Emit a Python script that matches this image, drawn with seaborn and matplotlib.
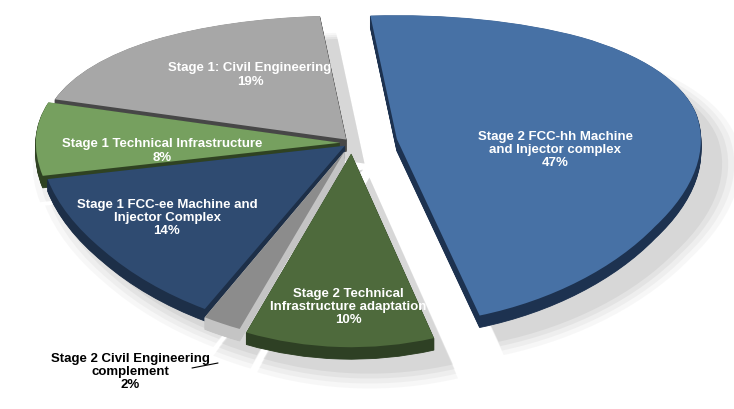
import numpy as np
import matplotlib
matplotlib.use("Agg")
import matplotlib.pyplot as plt
from matplotlib.transforms import Transform, Affine2D
import seaborn as sns

sns.set_theme(style="white")
plt.rcParams['font.family'] = ['Liberation Sans', 'DejaVu Sans']

# ---- data ----
categories = [
    "Stage 1: Civil Engineering",
    "Stage 1 Technical Infrastructure",
    "Stage 1 FCC-ee Machine and Injector Complex",
    "Stage 2 Civil Engineering complement",
    "Stage 2 Technical Infrastructure adaptation",
    "Stage 2 FCC-hh Machine and Injector complex",
]
shares = [19, 8, 14, 2, 10, 47]
label_texts = [
    "Stage 1: Civil Engineering\n19%",
    "Stage 1 Technical Infrastructure\n8%",
    "Stage 1 FCC-ee Machine and\nInjector Complex\n14%",
    "Stage 2 Civil Engineering\ncomplement\n2%",
    "Stage 2 Technical\nInfrastructure adaptation\n10%",
    "Stage 2 FCC-hh Machine\nand Injector complex\n47%",
]

# ---- style ----
explode = [0.03, 0.04, 0.03, 0.06, 0.07, 0.15]
top_colors = ["#a7a7a7", "#76a05f", "#2f4b71", "#8c8c8c", "#4e6a3c", "#4771a5"]
side_colors = ["#474747", "#2f4222", "#1d2f48", "#c4c4c4", "#2e4024", "#1d3250"]
start = 95
depth = 0.08
n_layers = 16


class Tilt(Transform):
    """Vertical foreshortening: back of the disc (y>0) squeezed, front stretched."""
    input_dims = output_dims = 2
    is_separable = False

    def __init__(self, k):
        super().__init__()
        self.k = k

    def transform_non_affine(self, values):
        v = np.asarray(values, dtype=float)
        d = 1 + self.k * v[:, 1]
        return np.column_stack([v[:, 0], v[:, 1] / d])

    def inverted(self):
        return _InvTilt(self.k)


class _InvTilt(Transform):
    input_dims = output_dims = 2
    is_separable = False

    def __init__(self, k):
        super().__init__()
        self.k = k

    def transform_non_affine(self, values):
        v = np.asarray(values, dtype=float)
        y = v[:, 1] / (1 - self.k * v[:, 1])
        return np.column_stack([v[:, 0], y])

    def inverted(self):
        return Tilt(self.k)


tilt = Tilt(0.2)

fig = plt.figure(figsize=(7.34, 4.10), dpi=100)
ax = fig.add_axes([0, 0, 1, 1])

# back-to-front ranking from wedge mid angles
fr = np.cumsum([0] + shares[:-1]) / sum(shares)
mids = np.deg2rad(start + 360 * (fr + np.array(shares) / sum(shares) / 2))
rank = np.argsort(np.argsort(-np.sin(mids)))

# soft shadow
for k, (r, a) in enumerate([(1.07, 0.07), (1.05, 0.09), (1.03, 0.12), (1.01, 0.16)]):
    wedges, _ = ax.pie(shares, explode=explode, startangle=start, radius=r,
                       colors=["#9a9a9a"] * len(shares),
                       wedgeprops=dict(linewidth=0, alpha=a))
    for w in wedges:
        w.set_transform(tilt + Affine2D().translate(0.06, -depth - 0.08) + ax.transData)
        w.set_zorder(1 + k * 0.01)

# extruded sides
for k in range(n_layers, 0, -1):
    dz = depth * k / n_layers
    wedges, _ = ax.pie(shares, explode=explode, startangle=start,
                       colors=side_colors, wedgeprops=dict(linewidth=0.6))
    for i, w in enumerate(wedges):
        w.set_edgecolor(side_colors[i])
        w.set_transform(tilt + Affine2D().translate(0, -dz) + ax.transData)
        w.set_zorder(10 + rank[i] * 100 + (n_layers - k))

# top faces
wedges, _ = ax.pie(shares, explode=explode, startangle=start,
                   colors=top_colors, wedgeprops=dict(linewidth=0))
for i, w in enumerate(wedges):
    w.set_transform(tilt + ax.transData)
    w.set_zorder(10 + rank[i] * 100 + n_layers + 1)

ax.set_aspect('auto')
ax.set_xlim(-352 / 304, 382 / 304)
ax.set_ylim(-266 / 150, 144 / 150)
ax.axis('off')

# labels (pixel centres)
label_pos = [(250, 75), (162, 151), (167, 218), (130, 372), (348, 307), (555, 150)]
label_color = ["white", "white", "white", "black", "white", "white"]
for txt, (px, py), c in zip(label_texts, label_pos, label_color):
    ax.text(px / 734, 1 - py / 410, txt, transform=ax.transAxes, ha='center',
            va='center', color=c, fontsize=9.5, fontweight='bold',
            linespacing=1.15, zorder=2000)

ax.plot([192 / 734, 218 / 734], [1 - 369 / 410, 1 - 364 / 410],
        transform=ax.transAxes, color="black", lw=0.8, zorder=2000)

fig.savefig("out.png", dpi=100, facecolor="white")
